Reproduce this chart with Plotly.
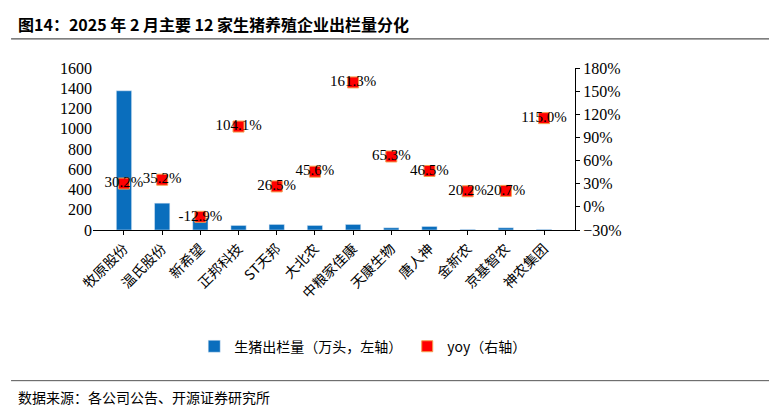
from plotly import graph_objs as go

companies = ["牧原股份", "温氏股份", "新希望", "正邦科技", "ST天邦", "大北农", "中粮家佳康",
             "天康生物", "唐人神", "金新农", "京基智农", "神农集团"]
output = [1375, 265, 118, 45, 55, 45, 55, 22, 35, 6, 22, 6]
yoy = [30.2, 35.2, -12.9, 104.1, 26.5, 45.6, 161.3, 65.3, 46.5, 20.2, 20.7, 115.0]

font = "Liberation Serif"
cjk = "Noto Sans CJK SC"
fig = go.Figure()
fig.add_trace(go.Bar(x=companies, y=output, name="生猪出栏量（万头，左轴）",
                     marker_color="#0a6ebd", width=0.4))
fig.add_trace(go.Scatter(x=companies, y=yoy, name="yoy（右轴）", yaxis="y2",
                         mode="markers+text",
                         marker=dict(symbol="square", size=11, color="#ff0000",
                                     line=dict(color="#f5a050", width=1)),
                         text=[f"{v:.1f}%" for v in yoy], textposition="middle center",
                         textfont=dict(size=15, color="black", family=font)))

fig.update_layout(
    width=777, height=405,
    margin=dict(l=85, r=210, t=60, b=183),
    plot_bgcolor="white", paper_bgcolor="white",
    font=dict(family=font, size=16, color="black"),
    bargap=0.6, showlegend=True,
    legend=dict(orientation="h", x=0.21, y=-0.72, xanchor="left", yanchor="middle",
                font=dict(size=14, family=cjk)),
    xaxis=dict(showline=True, linecolor="black", ticks="outside", tickcolor="black",
               ticklen=4, tickangle=-45, tickfont=dict(family=cjk, size=14)),
    yaxis=dict(range=[0, 1600], dtick=200, showgrid=False, showline=False, zeroline=False,
               tickfont=dict(family=font, size=16)),
    yaxis2=dict(range=[-30, 180], dtick=30, ticksuffix="%", overlaying="y", side="right",
                showgrid=False, showline=True, linecolor="black", ticks="outside",
                tickcolor="black", ticklen=4, zeroline=False,
                tickfont=dict(family=font, size=16)),
)
fig.add_annotation(text="<b>图14：2025 年 2 月主要 12 家生猪养殖企业出栏量分化</b>",
                   xref="paper", yref="paper", x=-0.16, y=1.27, xanchor="left",
                   yanchor="middle", showarrow=False,
                   font=dict(size=16, color="black", family=cjk))
fig.add_annotation(text="数据来源：各公司公告、开源证券研究所",
                   xref="paper", yref="paper", x=-0.16, y=-1.03, xanchor="left",
                   yanchor="middle", showarrow=False,
                   font=dict(size=14, color="black", family=cjk))
fig.add_shape(type="line", xref="paper", yref="paper", x0=-0.17, x1=1.43, y0=1.18, y1=1.18,
              line=dict(color="#555555", width=1.2))
fig.add_shape(type="line", xref="paper", yref="paper", x0=-0.17, x1=1.43, y0=-0.93, y1=-0.93,
              line=dict(color="#555555", width=1))
fig.write_html("out.html")
